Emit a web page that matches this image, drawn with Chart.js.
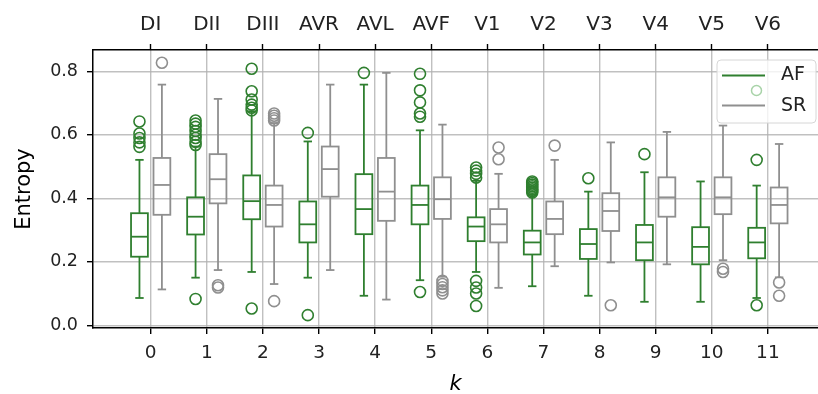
<!DOCTYPE html>
<html>
<head>
<meta charset="utf-8">
<script src="https://cdn.jsdelivr.net/npm/chart.js@4/dist/chart.umd.min.js"></script>
<style>html,body{margin:0;padding:0;overflow:hidden;background:#fff}</style>
</head>
<body>
<canvas id="c" width="818" height="394"></canvas>
<script>
// ---- data ----
const categories = [0, 1, 2, 3, 4, 5, 6, 7, 8, 9, 10, 11];
const leadLabels = ['DI', 'DII', 'DIII', 'AVR', 'AVL', 'AVF', 'V1', 'V2', 'V3', 'V4', 'V5', 'V6'];
const yTicks = [0.0, 0.2, 0.4, 0.6, 0.8];
const seriesNames = ['AF', 'SR'];

// AF (green)
const afLow    = [0.086, 0.150, 0.168, 0.150, 0.093, 0.142, 0.168, 0.123, 0.093, 0.074, 0.074, 0.086];
const afQ1     = [0.216, 0.286, 0.334, 0.261, 0.287, 0.318, 0.265, 0.223, 0.209, 0.205, 0.192, 0.211];
const afMedian = [0.279, 0.342, 0.391, 0.318, 0.366, 0.379, 0.311, 0.261, 0.256, 0.261, 0.247, 0.261];
const afQ3     = [0.353, 0.403, 0.472, 0.390, 0.476, 0.440, 0.340, 0.298, 0.303, 0.316, 0.309, 0.307];
const afHigh   = [0.521, 0.563, 0.674, 0.579, 0.758, 0.614, 0.455, 0.411, 0.421, 0.482, 0.453, 0.440];
const afOutliers = [
  [0.642, 0.604, 0.590, 0.576, 0.562],
  [0.645, 0.635, 0.625, 0.612, 0.600, 0.590, 0.578, 0.568, 0.083],
  [0.808, 0.737, 0.711, 0.695, 0.685, 0.677, 0.053],
  [0.606, 0.032],
  [0.795],
  [0.792, 0.740, 0.702, 0.667, 0.657, 0.105],
  [0.497, 0.487, 0.477, 0.465, 0.140, 0.119, 0.100, 0.061],
  [0.453, 0.448, 0.443, 0.438, 0.433, 0.428, 0.423, 0.418],
  [0.463],
  [0.539],
  [],
  [0.521, 0.063]
];

// SR (gray)
const srLow    = [0.113, 0.174, 0.130, 0.174, 0.081, 0.153, 0.118, 0.186, 0.198, 0.192, 0.205, 0.151];
const srQ1     = [0.348, 0.384, 0.311, 0.405, 0.329, 0.335, 0.261, 0.287, 0.297, 0.342, 0.350, 0.321];
const srMedian = [0.442, 0.460, 0.379, 0.492, 0.421, 0.397, 0.318, 0.335, 0.360, 0.403, 0.403, 0.379];
const srQ3     = [0.527, 0.539, 0.440, 0.563, 0.527, 0.466, 0.366, 0.390, 0.416, 0.466, 0.466, 0.434];
const srHigh   = [0.758, 0.713, 0.637, 0.758, 0.795, 0.632, 0.477, 0.521, 0.576, 0.609, 0.629, 0.571];
const srOutliers = [
  [0.827],
  [0.126, 0.119],
  [0.667, 0.660, 0.652, 0.645, 0.076],
  [],
  [],
  [0.140, 0.130, 0.120, 0.110, 0.100],
  [0.560, 0.523],
  [0.566],
  [0.063],
  [],
  [0.178, 0.168],
  [0.135, 0.093]
];

// ---- styling / layout ----
const GREEN = '#2f7f2f';
const GRAY = '#8f8f8f';
const LEGEND_DOT = '#a8d3a8';
const GRID = 'rgba(176,176,176,0.8)';
const FONT = 'DejaVu Sans';
const X_MIN = -1.028, X_MAX = 11.893;
const Y_MIN = -0.0085, Y_MAX = 0.867;
const SHIFT = 0.2, BOX_W = 0.3;

const series = [
  {name: seriesNames[0], color: GREEN, shift: -SHIFT, low: afLow, q1: afQ1, med: afMedian, q3: afQ3, high: afHigh, out: afOutliers},
  {name: seriesNames[1], color: GRAY,  shift:  SHIFT, low: srLow, q1: srQ1, med: srMedian, q3: srQ3, high: srHigh, out: srOutliers}
];

function outlierPoints(s) {
  const pts = [];
  s.out.forEach((arr, i) => arr.forEach(v => pts.push({x: categories[i] + s.shift, y: v})));
  return pts;
}

function line(ctx, x1, y1, x2, y2) {
  ctx.beginPath(); ctx.moveTo(x1, y1); ctx.lineTo(x2, y2); ctx.stroke();
}

const boxPlugin = {
  id: 'boxes',
  afterDatasetsDraw(chart) {
    const ctx = chart.ctx, xs = chart.scales.x, ys = chart.scales.y;
    const half = (xs.getPixelForValue(BOX_W) - xs.getPixelForValue(0)) / 2;
    const cap = half / 2;
    ctx.save();
    ctx.lineWidth = 1.8;
    series.forEach(s => {
      ctx.strokeStyle = s.color;
      categories.forEach((c, i) => {
        const cx = xs.getPixelForValue(c + s.shift);
        const yLo = ys.getPixelForValue(s.low[i]);
        const yQ1 = ys.getPixelForValue(s.q1[i]);
        const yMd = ys.getPixelForValue(s.med[i]);
        const yQ3 = ys.getPixelForValue(s.q3[i]);
        const yHi = ys.getPixelForValue(s.high[i]);
        ctx.strokeRect(cx - half, yQ3, 2 * half, yQ1 - yQ3);
        line(ctx, cx - half, yMd, cx + half, yMd);
        line(ctx, cx, yQ3, cx, yHi);
        line(ctx, cx, yQ1, cx, yLo);
        line(ctx, cx - cap, yHi, cx + cap, yHi);
        line(ctx, cx - cap, yLo, cx + cap, yLo);
      });
    });
    ctx.restore();
  },
  afterDraw(chart) {
    // legend (upper right)
    const ctx = chart.ctx, ca = chart.chartArea;
    const w = 99, h = 63;
    const x0 = ca.right - 2 - w, y0 = ca.top + 10;
    ctx.save();
    ctx.beginPath();
    if (ctx.roundRect) ctx.roundRect(x0, y0, w, h, 4); else ctx.rect(x0, y0, w, h);
    ctx.fillStyle = 'rgba(255,255,255,0.8)';
    ctx.fill();
    ctx.strokeStyle = '#d6d6d6';
    ctx.lineWidth = 1;
    ctx.stroke();
    ctx.lineWidth = 2.2;
    ctx.strokeStyle = GREEN;
    line(ctx, x0 + 5, y0 + 15.5, x0 + 48, y0 + 15.5);
    ctx.strokeStyle = GRAY;
    line(ctx, x0 + 5, y0 + 45.5, x0 + 48, y0 + 45.5);
    ctx.lineWidth = 1.5;
    ctx.strokeStyle = LEGEND_DOT;
    ctx.beginPath(); ctx.arc(x0 + 39.5, y0 + 30.5, 5, 0, Math.PI * 2); ctx.stroke();
    ctx.fillStyle = '#222';
    ctx.font = '19px "' + FONT + '"';
    ctx.textBaseline = 'middle';
    ctx.textAlign = 'left';
    ctx.fillText(series[0].name, x0 + 64, y0 + 15.5);
    ctx.fillText(series[1].name, x0 + 64, y0 + 46);
    ctx.restore();
  }
};

function noPad(s) { s.paddingLeft = 0; s.paddingRight = 0; s.paddingTop = 0; s.paddingBottom = 0; }
const gridOpts = {color: GRID, lineWidth: 1.4, tickColor: '#000', tickLength: 6, tickWidth: 1.4};
const borderOpts = {display: true, color: '#000', width: 1.5};

new Chart(document.getElementById('c'), {
  type: 'scatter',
  data: {
    datasets: series.map(s => ({
      label: s.name,
      data: outlierPoints(s),
      pointStyle: 'circle',
      pointRadius: 5.5,
      pointHoverRadius: 5.5,
      pointBorderWidth: 1.6,
      borderColor: s.color,
      backgroundColor: 'rgba(0,0,0,0)',
      pointBackgroundColor: 'rgba(0,0,0,0)'
    }))
  },
  options: {
    responsive: false,
    animation: false,
    events: [],
    layout: {padding: 0, autoPadding: false},
    plugins: {legend: {display: false}, tooltip: {enabled: false}},
    scales: {
      x: {
        type: 'linear', position: 'bottom', min: X_MIN, max: X_MAX,
        afterBuildTicks: s => { s.ticks = categories.map(v => ({value: v})); },
        afterFit: s => { s.height = 66; noPad(s); },
        ticks: {callback: v => String(v), font: {family: FONT, size: 18.5}, color: '#222', padding: 8, maxRotation: 0, autoSkip: false},
        grid: gridOpts, border: borderOpts,
        title: {display: true, text: 'k', color: '#000', font: {family: FONT, size: 21, style: 'italic'}, padding: {top: 0, bottom: -3}}
      },
      x2: {
        type: 'linear', position: 'top', min: X_MIN, max: X_MAX,
        afterBuildTicks: s => { s.ticks = categories.map(v => ({value: v})); },
        afterFit: s => { s.height = 50; noPad(s); },
        ticks: {callback: v => leadLabels[v], font: {family: FONT, size: 20}, color: '#222', padding: 7, maxRotation: 0, autoSkip: false},
        grid: {drawOnChartArea: false, tickColor: '#000', tickLength: 6, tickWidth: 1.4},
        border: borderOpts
      },
      y: {
        type: 'linear', position: 'left', min: Y_MIN, max: Y_MAX,
        afterBuildTicks: s => { s.ticks = yTicks.map(v => ({value: v})); },
        afterFit: s => { s.width = 93; noPad(s); },
        ticks: {callback: v => v.toFixed(1), font: {family: FONT, size: 17.5}, color: '#222', padding: 9},
        grid: gridOpts, border: borderOpts,
        title: {display: true, text: 'Entropy', color: '#000', font: {family: FONT, size: 21}, padding: {top: 12, bottom: 0}}
      }
    }
  },
  plugins: [boxPlugin]
});
</script>
</body>
</html>
